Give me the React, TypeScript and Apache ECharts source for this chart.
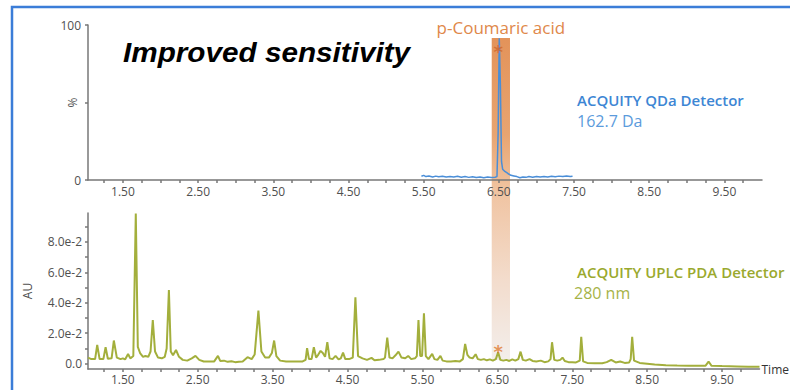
import React, { useEffect, useRef } from "react";
import * as echarts from "echarts";

// Axis setup (minutes)
const timeMin = 1.035;
const timeMax = 10.0;
const timeTicks = [1.25, 1.5, 1.75, 2, 2.25, 2.5, 2.75, 3, 3.25, 3.5, 3.75, 4, 4.25, 4.5, 4.75, 5, 5.25, 5.5, 5.75, 6, 6.25, 6.5, 6.75, 7, 7.25, 7.5, 7.75, 8, 8.25, 8.5, 8.75, 9, 9.25, 9.5, 9.75];
const timeLabels = [1.5, 2.5, 3.5, 4.5, 5.5, 6.5, 7.5, 8.5, 9.5];

const qdaTicks = [0, 50, 100];
const qdaLabels = [0, 100];
const pdaTicks = [0, 0.01, 0.02, 0.03, 0.04, 0.05, 0.06, 0.07, 0.08, 0.09];
const pdaLabels = [0, 0.02, 0.04, 0.06, 0.08];

// Highlighted compound window (minutes)
const bandStart = 6.405;
const bandEnd = 6.648;

// ACQUITY QDa, 162.7 Da (% intensity)
const qdaSeries: [number, number][] = [
  [5.47, 2.4], [5.5, 3.0], [5.53, 2.2], [5.57, 2.6], [5.62, 2.0], [5.66, 2.5], [5.7, 2.1], [5.75, 2.4],
  [5.8, 1.9], [5.85, 2.3], [5.9, 2.0], [5.95, 2.4], [6.0, 1.8], [6.05, 2.2], [6.1, 1.7], [6.15, 2.1],
  [6.2, 1.6], [6.25, 2.0], [6.3, 1.5], [6.35, 1.9], [6.4, 1.6], [6.45, 1.8], [6.475, 2.2], [6.49, 30],
  [6.505, 91.5], [6.52, 62], [6.535, 12], [6.55, 7], [6.58, 5.5], [6.62, 4.2], [6.66, 3.0], [6.7, 2.6],
  [6.74, 2.2], [6.78, 1.5], [6.82, 2.0], [6.86, 1.7], [6.9, 2.2], [6.95, 1.8], [7.0, 2.3], [7.05, 1.9],
  [7.1, 2.3], [7.15, 2.0], [7.2, 2.4], [7.25, 2.1], [7.3, 2.5], [7.35, 2.2], [7.4, 2.6], [7.45, 2.2], [7.48, 2.4],
];

// ACQUITY UPLC PDA, 280 nm (AU)
const pdaSeries: [number, number][] = [
  [1.035, 0.004], [1.08, 0.003], [1.13, 0.003], [1.158, 0.0123], [1.19, 0.003], [1.24, 0.003], [1.27, 0.0108],
  [1.3, 0.0032], [1.35, 0.0035], [1.38, 0.0152], [1.42, 0.004], [1.47, 0.003], [1.5, 0.0035], [1.53, 0.0028],
  [1.57, 0.0064], [1.6, 0.0035], [1.64, 0.005], [1.673, 0.0987], [1.7, 0.011], [1.73, 0.007], [1.77, 0.0045],
  [1.8, 0.005], [1.84, 0.0045], [1.87, 0.008], [1.9, 0.0287], [1.93, 0.008], [1.97, 0.004], [2.02, 0.0035],
  [2.06, 0.0045], [2.085, 0.01], [2.115, 0.0484], [2.14, 0.008], [2.17, 0.0055], [2.21, 0.009], [2.25, 0.0045],
  [2.3, 0.0025], [2.36, 0.002], [2.42, 0.0035], [2.47, 0.0051], [2.52, 0.0025], [2.58, 0.0014], [2.65, 0.0014],
  [2.72, 0.0015], [2.77, 0.0051], [2.8, 0.0018], [2.85, 0.002], [2.9, 0.0012], [2.95, 0.0016], [3.0, 0.001],
  [3.05, 0.0013], [3.1, 0.0015], [3.165, 0.0043], [3.22, 0.003], [3.26, 0.006], [3.31, 0.0349], [3.35, 0.008],
  [3.4, 0.004], [3.45, 0.004], [3.49, 0.007], [3.52, 0.0152], [3.55, 0.005], [3.6, 0.002], [3.68, 0.0014],
  [3.75, 0.0014], [3.82, 0.0014], [3.9, 0.0015], [3.94, 0.0025], [3.96, 0.0102], [3.985, 0.003], [4.02, 0.003],
  [4.05, 0.0108], [4.08, 0.004], [4.11, 0.006], [4.14, 0.0084], [4.17, 0.007], [4.2, 0.0045], [4.23, 0.0141],
  [4.26, 0.0035], [4.3, 0.003], [4.34, 0.0051], [4.38, 0.0028], [4.41, 0.0035], [4.44, 0.0073], [4.47, 0.003],
  [4.52, 0.003], [4.57, 0.004], [4.605, 0.0436], [4.64, 0.005], [4.7, 0.0035], [4.76, 0.0025], [4.82, 0.0038],
  [4.86, 0.0022], [4.92, 0.0025], [4.98, 0.003], [5.0, 0.004], [5.03, 0.0171], [5.06, 0.004], [5.1, 0.0035],
  [5.14, 0.0055], [5.18, 0.0079], [5.22, 0.004], [5.27, 0.0035], [5.31, 0.0051], [5.35, 0.003], [5.4, 0.0035],
  [5.425, 0.005], [5.447, 0.0287], [5.47, 0.005], [5.495, 0.005], [5.52, 0.0331], [5.545, 0.005], [5.58, 0.003],
  [5.63, 0.0064], [5.66, 0.003], [5.7, 0.0025], [5.74, 0.0051], [5.77, 0.002], [5.82, 0.0015], [5.88, 0.0015],
  [5.94, 0.0018], [6.0, 0.0015], [6.04, 0.003], [6.07, 0.013], [6.1, 0.0058], [6.13, 0.004], [6.17, 0.0035],
  [6.21, 0.0062], [6.24, 0.003], [6.28, 0.0025], [6.32, 0.003], [6.36, 0.0022], [6.4, 0.0028], [6.44, 0.002],
  [6.48, 0.003], [6.51, 0.0075], [6.54, 0.0025], [6.58, 0.002], [6.62, 0.0025], [6.66, 0.0018], [6.7, 0.0028],
  [6.74, 0.002], [6.78, 0.003], [6.81, 0.0079], [6.84, 0.0025], [6.88, 0.002], [6.93, 0.003], [6.97, 0.0018],
  [7.02, 0.0015], [7.08, 0.002], [7.13, 0.001], [7.18, 0.0015], [7.21, 0.003], [7.23, 0.0141], [7.26, 0.0025],
  [7.3, 0.002], [7.34, 0.0025], [7.37, 0.004], [7.4, 0.0018], [7.45, 0.001], [7.5, 0.001], [7.55, 0.0008],
  [7.6, 0.002], [7.62, 0.0176], [7.645, 0.0015], [7.7, 0.0005], [7.8, 0.0003], [7.9, 0.0003], [7.96, 0.001],
  [8.02, 0.0025], [8.08, 0.0008], [8.14, 0.0014], [8.2, 0.0005], [8.26, 0.0008], [8.28, 0.003], [8.3, 0.0176],
  [8.325, 0.002], [8.4, 0.0005], [8.5, 0.0], [8.6, -0.0006], [8.75, -0.001], [8.9, -0.0012], [9.05, -0.0013],
  [9.2, -0.0014], [9.28, -0.0013], [9.32, 0.0014], [9.36, -0.0014], [9.5, -0.0016], [9.7, -0.0018],
  [9.85, -0.002], [10.0, -0.0021],
];

// Peak markers (asterisks)
const qdaMarker: [number, number][] = [[6.49, 86]];
const pdaMarker: [number, number][] = [[6.51, 0.0115]];

const AXIS_COLOR = "#777";
const LABEL_COLOR = "#505050";
const FONT = "Open Sans";

function timeAxis(gridIndex: number, withName: boolean) {
  return {
    type: "value",
    gridIndex,
    min: timeMin,
    max: timeMax,
    name: withName ? "Time" : "",
    nameLocation: "end",
    nameGap: 2,
    nameTextStyle: { color: "#333", fontSize: 12, fontFamily: FONT, verticalAlign: "middle" },
    axisLine: { show: true, onZero: false, lineStyle: { color: AXIS_COLOR, width: 1.5 } },
    axisTick: { show: true, customValues: timeTicks, length: 3, lineStyle: { color: AXIS_COLOR, width: 1.5 } },
    axisLabel: {
      show: true,
      customValues: timeLabels,
      margin: gridIndex === 0 ? 5 : 4,
      color: LABEL_COLOR,
      fontSize: 12,
      fontFamily: FONT,
      formatter: (v: number) => v.toFixed(2),
    },
    splitLine: { show: false },
  };
}

export default function App() {
  const ref = useRef<HTMLDivElement>(null);

  useEffect(() => {
    if (!ref.current) return;
    const chart = echarts.init(ref.current, undefined, { renderer: "svg" });
    chart.setOption({
      animation: false,
      backgroundColor: "#ffffff",
      grid: [
        { left: 88, top: 25, width: 674, height: 155 },
        { left: 88, top: 213, width: 674, height: 156 },
      ],
      xAxis: [timeAxis(0, false), timeAxis(1, true)],
      yAxis: [
        {
          type: "value",
          gridIndex: 0,
          min: 0,
          max: 100,
          name: "%",
          nameLocation: "middle",
          nameRotate: 90,
          nameGap: 10,
          nameMoveOverlap: false,
          nameTextStyle: { color: LABEL_COLOR, fontSize: 12, fontFamily: FONT },
          axisLine: { show: true, lineStyle: { color: AXIS_COLOR, width: 1.5 } },
          axisTick: { show: true, customValues: qdaTicks, length: 3, lineStyle: { color: AXIS_COLOR, width: 1.5 } },
          axisLabel: { customValues: qdaLabels, margin: 7, color: LABEL_COLOR, fontSize: 12, fontFamily: FONT },
          splitLine: { show: false },
        },
        {
          type: "value",
          gridIndex: 1,
          min: -0.0035,
          max: 0.099,
          name: "AU",
          nameLocation: "middle",
          nameRotate: 90,
          nameGap: 55,
          nameMoveOverlap: false,
          nameTextStyle: { color: LABEL_COLOR, fontSize: 12, fontFamily: FONT },
          axisLine: { show: true, lineStyle: { color: AXIS_COLOR, width: 1.5 } },
          axisTick: { show: true, customValues: pdaTicks, length: 3, lineStyle: { color: AXIS_COLOR, width: 1.5 } },
          axisLabel: {
            customValues: pdaLabels,
            margin: 6,
            color: LABEL_COLOR,
            fontSize: 12,
            fontFamily: FONT,
            formatter: (v: number) => (Math.abs(v) < 1e-9 ? "0.0" : (v * 100).toFixed(1) + "e-2"),
          },
          splitLine: { show: false },
        },
      ],
      series: [
        {
          type: "line",
          xAxisIndex: 0,
          yAxisIndex: 0,
          data: qdaSeries,
          showSymbol: false,
          z: 3,
          lineStyle: { color: "#4A8ED8", width: 1.5 },
        },
        {
          type: "line",
          xAxisIndex: 1,
          yAxisIndex: 1,
          data: pdaSeries,
          showSymbol: false,
          z: 3,
          lineStyle: { color: "#A3AF3C", width: 2 },
        },
        {
          type: "scatter",
          xAxisIndex: 0,
          yAxisIndex: 0,
          data: qdaMarker,
          symbolSize: 1,
          z: 4,
          itemStyle: { color: "rgba(0,0,0,0)" },
          label: { show: true, position: "inside", formatter: "*", fontSize: 18, fontWeight: "bold", color: "#D0652A", offset: [0, 5], fontFamily: "DejaVu Sans" },
        },
        {
          type: "scatter",
          xAxisIndex: 1,
          yAxisIndex: 1,
          data: pdaMarker,
          symbolSize: 1,
          z: 4,
          itemStyle: { color: "rgba(0,0,0,0)" },
          label: { show: true, position: "inside", formatter: "*", fontSize: 18, fontWeight: "bold", color: "#E07A30", offset: [0, 5], fontFamily: "DejaVu Sans" },
        },
      ],
    });

    const x0 = chart.convertToPixel({ xAxisIndex: 0 }, bandStart) as number;
    const x1 = chart.convertToPixel({ xAxisIndex: 0 }, bandEnd) as number;
    const bandTop = 38;
    const bandBottom = 360;

    chart.setOption({
      graphic: {
        elements: [
          {
            type: "rect",
            z: -10,
            silent: true,
            shape: { x: x0, y: bandTop, width: x1 - x0, height: bandBottom - bandTop },
            style: {
              fill: new echarts.graphic.LinearGradient(0, 0, 0, 1, [
                { offset: 0, color: "#E3935A" },
                { offset: 0.3, color: "#E8A470" },
                { offset: 0.47, color: "#F0C3A0" },
                { offset: 0.75, color: "#F3DCCC" },
                { offset: 1, color: "#F3EEEB" },
              ]),
            },
          },
          {
            type: "rect",
            z: 100,
            silent: true,
            shape: { x: 12, y: 7, width: 800, height: 420 },
            style: { fill: "none", stroke: "#3B7DD8", lineWidth: 2.5 },
          },
          {
            type: "text",
            z: 100,
            x: (x0 + x1) / 2,
            y: 27,
            style: { text: "p-Coumaric acid", fill: "#E0884A", fontSize: 17, fontFamily: FONT, align: "center", verticalAlign: "middle" },
          },
          {
            type: "text",
            z: 100,
            x: 123,
            y: 52,
            scaleX: 1.1,
            style: { text: "Improved sensitivity", fill: "#000", fontSize: 27, fontWeight: "bold", fontStyle: "italic", fontFamily: "Liberation Sans", align: "left", verticalAlign: "middle" },
          },
          {
            type: "text",
            z: 100,
            x: 577,
            y: 100,
            style: { text: "ACQUITY QDa Detector", fill: "#3D86D4", fontSize: 15, fontWeight: 600, fontFamily: FONT, align: "left", verticalAlign: "middle" },
          },
          {
            type: "text",
            z: 100,
            x: 577,
            y: 121,
            style: { text: "162.7 Da", fill: "#5B9BDC", fontSize: 16, fontFamily: FONT, align: "left", verticalAlign: "middle" },
          },
          {
            type: "text",
            z: 100,
            x: 577,
            y: 272,
            style: { text: "ACQUITY UPLC PDA Detector", fill: "#9AA92E", fontSize: 15, fontWeight: 600, fontFamily: FONT, align: "left", verticalAlign: "middle" },
          },
          {
            type: "text",
            z: 100,
            x: 574,
            y: 293,
            style: { text: "280 nm", fill: "#A6B347", fontSize: 16, fontFamily: FONT, align: "left", verticalAlign: "middle" },
          },
        ],
      },
    });

    return () => chart.dispose();
  }, []);

  return (
    <div
      ref={ref}
      style={{ position: "fixed", left: 0, top: 0, width: 790, height: 390, background: "#fff" }}
    />
  );
}
